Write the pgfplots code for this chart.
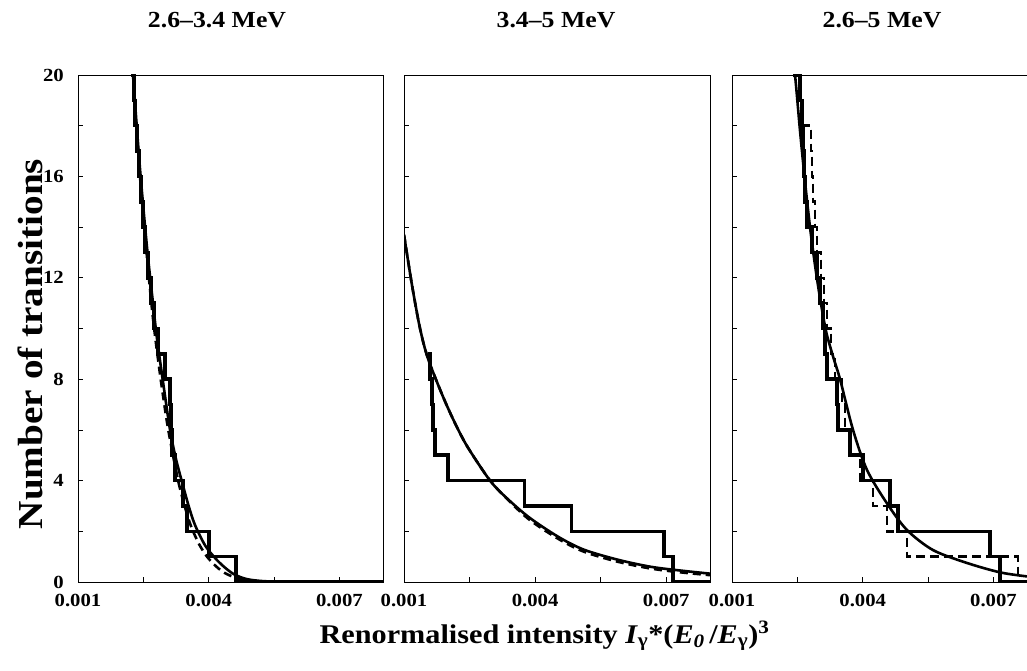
\documentclass[border=0pt]{standalone}
\usepackage{fontspec}
\setmainfont{Liberation Serif}[FakeStretch=1.12]
\usepackage{pgfplots}
\pgfplotsset{compat=1.18}
\begin{document}
\begin{tikzpicture}
\path[use as bounding box] (0,0) rectangle (1027pt,670pt);
\pgfplotsset{
  panel/.style={
    scale only axis, height=507pt, anchor=south west,
    xmin=0.001, ymin=0, ymax=20,
    xtick={0.001,0.0025,0.004,0.0055,0.007},
    xticklabels={0.001,,0.004,,0.007},
    ytick={0,2,...,20},
    scaled x ticks=false,
    tick align=inside, xtick pos=bottom, ytick pos=left,
    major tick length=5pt,
    axis line style={line width=0.8pt},
    every tick/.style={line width=0.7pt, black},
    xticklabel style={font=\bfseries\fontsize{18.5}{18.5}\selectfont, inner sep=1pt, yshift=-11pt},
    yticklabel style={font=\bfseries\fontsize{18.5}{18.5}\selectfont, inner sep=1pt, xshift=-13pt},
  },
  hist/.style={const plot mark left, line width=3.6pt, black, no marks},
  fit/.style={smooth, tension=0.5, line width=2.6pt, black, no marks},
  fitd/.style={smooth, tension=0.5, line width=2.6pt, black, no marks, dash pattern=on 8pt off 5pt},
}
% ---------- panel 1 ----------
\begin{axis}[panel, at={(78pt,88pt)}, width=305pt, xmax=0.008,
  yticklabels={0,,4,,8,,12,,16,,20}]
\addplot[hist] coordinates {
(0.002239,21) (0.002262,20) (0.002285,19) (0.002308,18) (0.002354,17)
(0.002400,16) (0.002446,15) (0.002492,14) (0.002538,13) (0.002607,12)
(0.002675,11) (0.002744,10) (0.002836,9) (0.002997,8) (0.003112,7)
(0.003134,6) (0.003157,5) (0.003226,4) (0.003410,3) (0.003502,2)
(0.004007,1) (0.004626,0) (0.008,0)};
\addplot[fit] coordinates {
(0.002148,22.8) (0.002262,20) (0.002423,16.3) (0.002584,13.2) (0.002721,11.0)
(0.002813,9.6) (0.002951,7.9) (0.003112,6.0) (0.003249,4.85) (0.003410,3.8)
(0.003548,2.95) (0.003685,2.25) (0.003915,1.45) (0.004144,0.95) (0.004351,0.6)
(0.004557,0.33) (0.004764,0.17) (0.004948,0.09) (0.005292,0.03) (0.005866,0.01) (0.008,0)};
\addplot[fitd] coordinates {
(0.002148,22.8) (0.002262,20) (0.002423,16.0) (0.002584,12.8) (0.002721,10.4)
(0.002882,8.2) (0.003043,6.3) (0.003180,5.0) (0.003318,3.85) (0.003456,2.95)
(0.003594,2.2) (0.003777,1.5) (0.003961,1.0) (0.004167,0.62) (0.004374,0.35)
(0.004603,0.18) (0.004833,0.08) (0.005177,0.03) (0.005866,0.005) (0.008,0)};
\end{axis}
% ---------- panel 2 ----------
\begin{axis}[panel, at={(404pt,88pt)}, width=306pt, xmax=0.008,
  yticklabels={}]
\addplot[hist] coordinates {
(0.001551,9) (0.001597,8) (0.001643,7) (0.001666,6) (0.001711,5)
(0.002010,4) (0.003754,3) (0.004833,2) (0.006944,1) (0.007151,0) (0.008,0)};
\addplot[fitd] coordinates {
(0.001,13.7) (0.001184,11.7) (0.001367,10.0) (0.001551,8.8) (0.001895,7.3)
(0.002171,6.25) (0.002446,5.35) (0.002905,4.15) (0.003203,3.55) (0.003823,2.52)
(0.004512,1.72) (0.005108,1.2) (0.005889,0.8) (0.006646,0.53) (0.007334,0.38) (0.008,0.27)};
\addplot[fit] coordinates {
(0.001,13.7) (0.001184,11.7) (0.001367,10.0) (0.001551,8.8) (0.001895,7.3)
(0.002171,6.25) (0.002446,5.35) (0.002905,4.15) (0.003203,3.55) (0.003823,2.6)
(0.004512,1.8) (0.005108,1.28) (0.005889,0.88) (0.006646,0.6) (0.007334,0.45) (0.008,0.33)};
\end{axis}
% ---------- panel 3 ----------
\begin{axis}[panel, at={(732pt,88pt)}, width=295pt, xmax=0.00777,
  yticklabels={}]
\addplot[hist] coordinates {
(0.002400,21) (0.002446,20) (0.002561,19) (0.002607,18) (0.002630,17)
(0.002652,16) (0.002675,15) (0.002721,14) (0.002836,13) (0.002951,12)
(0.003020,11) (0.003089,10) (0.003134,9) (0.003180,8) (0.003410,7)
(0.003433,6) (0.003708,5) (0.004007,4) (0.004626,3) (0.004810,2)
(0.006921,1) (0.007151,0) (0.00777,0)};
\addplot[hist, line width=2.6pt, dash pattern=on 9pt off 5pt] coordinates {
(0.002400,21) (0.002446,20) (0.002561,19) (0.002630,18) (0.002813,17)
(0.002836,16) (0.002859,15) (0.002905,14) (0.002951,13) (0.003043,12)
(0.003111,11) (0.003180,10) (0.003272,9) (0.003364,8) (0.003525,7)
(0.003594,6) (0.003708,5) (0.003938,4) (0.004236,3) (0.004557,2)
(0.005016,1) (0.007564,0) (0.00777,0)};
\addplot[fit] coordinates {
(0.002331,21.6) (0.002446,20) (0.002561,17.8) (0.002675,15.8) (0.002790,14.0)
(0.002905,12.5) (0.003020,11.2) (0.003157,9.9) (0.003318,8.9) (0.003479,8.0)
(0.003777,6.0) (0.004098,4.42) (0.004557,3.1) (0.005016,2.05) (0.005613,1.26)
(0.006394,0.75) (0.007151,0.38) (0.007771,0.22)};
\end{axis}
% ---------- texts ----------
\node[anchor=base, font=\bfseries\fontsize{23}{23}\selectfont] at (217pt,642pt) {2.6–3.4 MeV};
\node[anchor=base, font=\bfseries\fontsize{23}{23}\selectfont] at (556pt,642pt) {3.4–5 MeV};
\node[anchor=base, font=\bfseries\fontsize{23}{23}\selectfont] at (882pt,642pt) {2.6–5 MeV};
\node[rotate=90, font=\bfseries\fontsize{35}{35}\selectfont] at (30pt,326pt) {Number of transitions};
\node[anchor=base, font=\bfseries\fontsize{27}{27}\selectfont] at (544.5pt,27pt)
 {Renormalised intensity \textit{I}\textsubscript{γ}*(\textit{E}\textsubscript{\textit{0}}\,/\textit{E}\textsubscript{γ})\textsuperscript{3}};
\end{tikzpicture}
\end{document}
